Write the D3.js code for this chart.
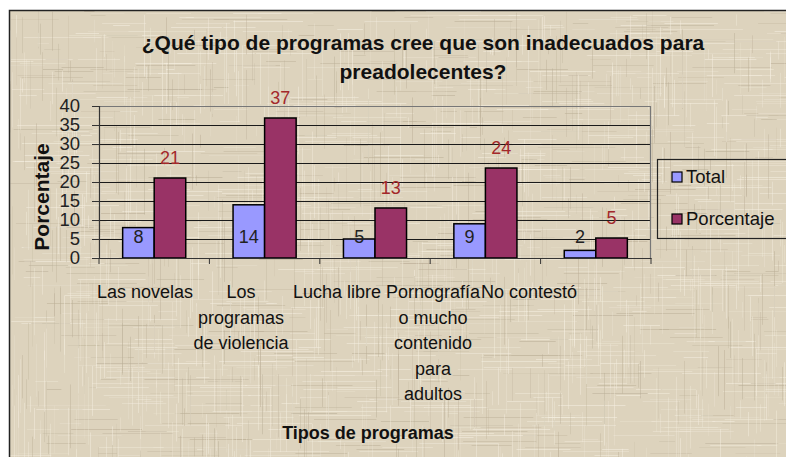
<!DOCTYPE html>
<html>
<head>
<meta charset="utf-8">
<script src="https://cdn.jsdelivr.net/npm/d3@7"></script>
<style>
  body { margin: 0; background: #fff; }
  svg { display: block; font-family: Arial, "Liberation Sans", sans-serif; }
</style>
</head>
<body>
<div id="chart"></div>
<script>
const categories = ['Las novelas', 'Los programas de violencia', 'Lucha libre',
  'Pornografía o mucho contenido para adultos', 'No contestó'];
const categoryLines = [
  ['Las novelas'],
  ['Los', 'programas', 'de violencia'],
  ['Lucha libre'],
  ['Pornografía', 'o mucho', 'contenido', 'para', 'adultos'],
  ['No contestó']
];
const totalValues = [8, 14, 5, 9, 2];
const percentValues = [21.05, 36.84, 13.16, 23.68, 5.26];
const percentLabels = ['21', '37', '13', '24', '5'];
const seriesNames = ['Total', 'Porcentaje'];
const yTicks = [0, 5, 10, 15, 20, 25, 30, 35, 40];

const W = 786, H = 457;
const margin = { top: 106, right: 135, bottom: 199, left: 99 };
const width = W - margin.left - margin.right;
const height = H - margin.top - margin.bottom;
const colors = { Total: '#9999ff', Porcentaje: '#993366' };

const svg = d3.select('#chart').append('svg')
  .attr('width', W)
  .attr('height', H);

// background with a woven, linen-like look (fixed pseudo pattern, decoration only)
svg.append('rect')
  .attr('x', 9).attr('y', 10).attr('width', W - 9).attr('height', H - 10)
  .attr('fill', '#ddd3bd');

const hash = n => { const s = Math.sin(n * 12.9898 + 78.233) * 43758.5453; return s - Math.floor(s); };
const streaks = [];
for (let yy = 11; yy < H; yy += 2) {
  for (let k = 0; k < 5; k++) {
    const h = hash(yy * 7 + k);
    const x = 9 + hash(yy * 13 + k * 3) * W;
    streaks.push({ x1: x, y1: yy + 0.5, x2: x + 10 + hash(yy + k * 31) * 70, y2: yy + 0.5,
      light: h > 0.35, o: 0.15 + hash(yy * 3 + k * 17) * 0.4 });
  }
}
for (let xx = 10; xx < W; xx += 2) {
  for (let k = 0; k < 3; k++) {
    const h = hash(xx * 11 + k + 500);
    const y0 = 10 + hash(xx * 5 + k * 7 + 900) * H;
    streaks.push({ x1: xx + 0.5, y1: y0, x2: xx + 0.5, y2: y0 + 10 + hash(xx + k * 41 + 300) * 60,
      light: h > 0.35, o: 0.12 + hash(xx * 9 + k * 23) * 0.35 });
  }
}
const tex = svg.append('g').attr('clip-path', 'url(#bgclip)');
svg.append('defs').append('clipPath').attr('id', 'bgclip')
  .append('rect').attr('x', 10).attr('y', 11).attr('width', W - 10).attr('height', H - 11);
tex.selectAll('line')
  .data(streaks)
  .join('line')
  .attr('x1', d => d.x1).attr('y1', d => d.y1)
  .attr('x2', d => d.x2).attr('y2', d => d.y2)
  .attr('stroke', d => d.light ? '#f6f0e2' : '#b9ad95')
  .attr('stroke-opacity', d => d.o)
  .attr('stroke-width', 1);

svg.append('path')
  .attr('d', `M9.5,${H}V10.5H${W}`)
  .attr('fill', 'none').attr('stroke', '#222').attr('stroke-width', 1.5);

// title
svg.append('text')
  .attr('text-anchor', 'middle')
  .attr('font-weight', 'bold')
  .attr('font-size', 21)
  .attr('fill', '#111')
  .selectAll('tspan')
  .data(['¿Qué tipo de programas cree que son inadecuados para', 'preadolecentes?'])
  .join('tspan')
  .attr('x', 423)
  .attr('y', (d, i) => 50 + i * 29)
  .text(d => d);

const g = svg.append('g').attr('transform', `translate(${margin.left},${margin.top})`);

const x0 = d3.scaleBand().domain(categories).range([0, width]);
const x1 = d3.scaleBand().domain(seriesNames).range([0, x0.bandwidth()]).paddingOuter(0.75);
const y = d3.scaleLinear().domain([0, 40]).range([height, 0]);

// gridlines
g.append('g')
  .selectAll('line')
  .data(yTicks.slice(1, -1))
  .join('line')
  .attr('x1', 0).attr('x2', width)
  .attr('y1', d => Math.round(y(d)) + 0.5).attr('y2', d => Math.round(y(d)) + 0.5)
  .attr('stroke', '#1a1a1a').attr('stroke-width', 1);

// plot border top/right
g.append('path')
  .attr('d', `M0,${y(40) + 0.5}H${width - 0.5}V${height}`)
  .attr('fill', 'none').attr('stroke', '#777').attr('stroke-width', 1.2);

// bars
const groups = g.append('g').selectAll('g')
  .data(categories)
  .join('g')
  .attr('transform', d => `translate(${x0(d)},0)`);

groups.append('rect')
  .attr('x', x1('Total'))
  .attr('y', (d, i) => y(totalValues[i]))
  .attr('width', x1.bandwidth())
  .attr('height', (d, i) => height - y(totalValues[i]))
  .attr('fill', colors.Total)
  .attr('stroke', '#000').attr('stroke-width', 1.5);

groups.append('rect')
  .attr('x', x1('Porcentaje'))
  .attr('y', (d, i) => y(percentValues[i]))
  .attr('width', x1.bandwidth())
  .attr('height', (d, i) => height - y(percentValues[i]))
  .attr('fill', colors.Porcentaje)
  .attr('stroke', '#000').attr('stroke-width', 1.5);

// value labels
groups.append('text')
  .attr('x', x1('Total') + x1.bandwidth() / 2)
  .attr('y', y(5.5))
  .attr('dy', '0.35em')
  .attr('text-anchor', 'middle')
  .attr('font-size', 18)
  .attr('fill', '#222')
  .text((d, i) => totalValues[i]);

groups.append('text')
  .attr('x', x1('Porcentaje') + x1.bandwidth() / 2)
  .attr('y', (d, i) => y(percentValues[i]) - 20.5)
  .attr('dy', '0.35em')
  .attr('text-anchor', 'middle')
  .attr('font-size', 18)
  .attr('fill', '#a3282b')
  .text((d, i) => percentLabels[i]);

// y axis
const yAxis = g.append('g')
  .call(d3.axisLeft(y).tickValues(yTicks).tickSize(7).tickPadding(12));
yAxis.select('.domain').attr('stroke', '#333').attr('stroke-width', 1.2);
yAxis.selectAll('.tick line').attr('stroke', '#333');
yAxis.selectAll('.tick text')
  .attr('font-size', 18.5).attr('font-family', 'Arial, "Liberation Sans", sans-serif')
  .attr('fill', '#222');

// x axis
const xAxis = g.append('g')
  .attr('transform', `translate(0,${height})`)
  .call(d3.axisBottom(x0).tickSize(0).tickFormat(''));
xAxis.select('.domain').attr('stroke', '#333').attr('stroke-width', 1.2);
xAxis.selectAll('.boundary')
  .data(d3.range(categories.length + 1))
  .join('line')
  .attr('class', 'boundary')
  .attr('x1', i => i * x0.step()).attr('x2', i => i * x0.step())
  .attr('y1', 0).attr('y2', 6)
  .attr('stroke', '#333');

// category labels
const xLabel = d3.scaleBand().domain(categories).range([-2, 478]);
g.append('g')
  .selectAll('text')
  .data(categories)
  .join('text')
  .attr('text-anchor', 'middle')
  .attr('font-size', 18)
  .attr('fill', '#111')
  .each(function (d, i) {
    d3.select(this).selectAll('tspan')
      .data(categoryLines[i])
      .join('tspan')
      .attr('x', xLabel(d) + xLabel.bandwidth() / 2)
      .attr('y', (t, j) => height + 40 + j * 25.5)
      .text(t => t);
  });

// axis titles
svg.append('text')
  .attr('x', 368).attr('y', 439)
  .attr('text-anchor', 'middle')
  .attr('font-weight', 'bold').attr('font-size', 18)
  .attr('fill', '#111')
  .text('Tipos de programas');

svg.append('text')
  .attr('transform', 'translate(49,197) rotate(-90)')
  .attr('text-anchor', 'middle')
  .attr('font-weight', 'bold').attr('font-size', 21)
  .attr('fill', '#111')
  .text('Porcentaje');

// legend
const legend = svg.append('g');
legend.append('rect')
  .attr('x', 657.5).attr('y', 159.5).attr('width', 140).attr('height', 79)
  .attr('fill', 'none').attr('stroke', '#222').attr('stroke-width', 1.2);
const items = legend.selectAll('g.item')
  .data(seriesNames)
  .join('g')
  .attr('class', 'item')
  .attr('transform', (d, i) => `translate(672,${172 + i * 42})`);
items.append('rect')
  .attr('width', 10).attr('height', 10)
  .attr('fill', d => colors[d])
  .attr('stroke', '#000').attr('stroke-width', 1.2);
items.append('text')
  .attr('x', 14).attr('y', 5).attr('dy', '0.35em')
  .attr('font-size', 18.5).attr('fill', '#111')
  .text(d => d);
</script>
</body>
</html>
